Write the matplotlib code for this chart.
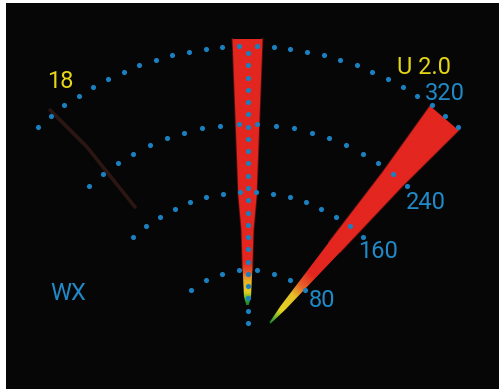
import numpy as np
import matplotlib
matplotlib.use("Agg")
import matplotlib.pyplot as plt
from matplotlib.patches import Polygon
from matplotlib.colors import LinearSegmentedColormap

# range rings: radius on screen, half sweep (deg from north), dot count
ring_labels = ['80', '160', '240', '320']
ring_radius = [90, 168, 236, 314]
ring_half_deg = [39, 43, 42.5, 42]
ring_dots = [8, 16, 20, 28]

# azimuth cursor (dotted line straight up)
cursor_from, cursor_to, cursor_dots = 37, 307, 23

# echo 1: narrow vertical beam (distance along beam -> half width)
beam1_tip = (-0.5, 55)
beam1_dir = (0.0, 1.0)
beam1_s = [0, 8, 35, 75, 108, 175, 266]
beam1_hw = [1.2, 3.5, 4.8, 6, 9, 11.5, 15]
beam1_stops = [0, 7, 12, 24, 32, 42, 266]
beam1_cols = ['#148a2c', '#62b52a', '#e2cf22', '#eab024', '#e6582a', '#e3261f', '#e3261f']

# echo 2: wide diagonal beam
beam2_tip = (22, 37)
beam2_end = (196.5, 242)
beam2_s = [0, 20, 100, 188, 269]
beam2_hw = [0.8, 3, 7.5, 12, 18.8]
beam2_stops = [0, 8, 16, 36, 48, 64, 269]
beam2_cols = ['#148a2c', '#74bc2a', '#e4d222', '#e6c02a', '#e8662a', '#e3261f', '#e3261f']

# faint clutter streak on the left
streak_x = [-198, -161, -113]
streak_y = [250, 213, 153]

# screen annotations
txt = ['18', 'U 2.0', '320', '240', '160', '80', 'WX']
txt_x = [-188, 176, 196.5, 177.5, 130.5, 73.5, -179.5]
txt_y = [272, 286, 260, 151, 102, 53, 60]
txt_col = ['#e6d618', '#e6d618', '#2089c8', '#2089c8', '#2089c8', '#2089c8', '#2089c8']

DOT = '#1a80c0'

fig = plt.figure(figsize=(4.99, 3.89), dpi=100, facecolor='white')
ax = fig.add_axes([6/499, 0, 493/499, 386/389])
ax.set_facecolor('#060606')
ax.set_xlim(-242, 251)
ax.set_ylim(-29, 357)
ax.set_xticks([]); ax.set_yticks([])
for sp in ax.spines.values():
    sp.set_visible(False)


def draw_beam(tip, u, s, hw, stops, cols, name):
    u = np.array(u, float); u /= np.hypot(*u)
    n = np.array([u[1], -u[0]])
    tip = np.array(tip, float)
    s = np.array(s, float); hw = np.array(hw, float)
    left = [tip + si*u - wi*n for si, wi in zip(s, hw)]
    right = [tip + si*u + wi*n for si, wi in zip(s, hw)]
    pts = np.array(left + right[::-1])
    poly = Polygon(pts, closed=True, facecolor='none', edgecolor='none')
    ax.add_patch(poly)
    x0, y0 = pts.min(axis=0) - 2
    x1, y1 = pts.max(axis=0) + 2
    X, Y = np.meshgrid(np.linspace(x0, x1, 300), np.linspace(y0, y1, 300))
    S = (X - tip[0])*u[0] + (Y - tip[1])*u[1]
    smax = stops[-1]
    cmap = LinearSegmentedColormap.from_list(name, list(zip(np.array(stops)/smax, cols)))
    im = ax.imshow(S, cmap=cmap, vmin=0, vmax=smax, extent=(x0, x1, y0, y1),
                   origin='lower', interpolation='bilinear', zorder=2)
    im.set_clip_path(poly)
    # soft glow along the red part of the edge
    far = s > stops[4]
    ax.plot((np.array(left)[far])[:, 0], (np.array(left)[far])[:, 1], color='#e3261f',
            lw=1.3, alpha=0.35, zorder=1.9)
    ax.plot((np.array(right)[far])[:, 0], (np.array(right)[far])[:, 1], color='#e3261f',
            lw=1.3, alpha=0.35, zorder=1.9)


ax.plot(streak_x, streak_y, color='#3c1d19', lw=2.6, alpha=0.7,
        solid_capstyle='round', zorder=1)

draw_beam(beam1_tip, beam1_dir, beam1_s, beam1_hw, beam1_stops, beam1_cols, 'b1')
d2 = (beam2_end[0] - beam2_tip[0], beam2_end[1] - beam2_tip[1])
draw_beam(beam2_tip, d2, beam2_s, beam2_hw, beam2_stops, beam2_cols, 'b2')

for r, h, k in zip(ring_radius, ring_half_deg, ring_dots):
    a = np.radians(np.linspace(-h, h, k))
    ax.plot(r*np.sin(a), r*np.cos(a), 'o', ms=3.7, mew=0, color=DOT, zorder=3)

cy = np.linspace(cursor_from, cursor_to, cursor_dots)
ax.plot(np.zeros_like(cy), cy, 'o', ms=3.7, mew=0, color=DOT, zorder=3)

for t, x, y, c in zip(txt, txt_x, txt_y, txt_col):
    ax.text(x, y, t, color=c, fontsize=17, ha='center', va='baseline',
            family='Roboto', zorder=4)

fig.savefig('out.png', dpi=100, facecolor=fig.get_facecolor())
